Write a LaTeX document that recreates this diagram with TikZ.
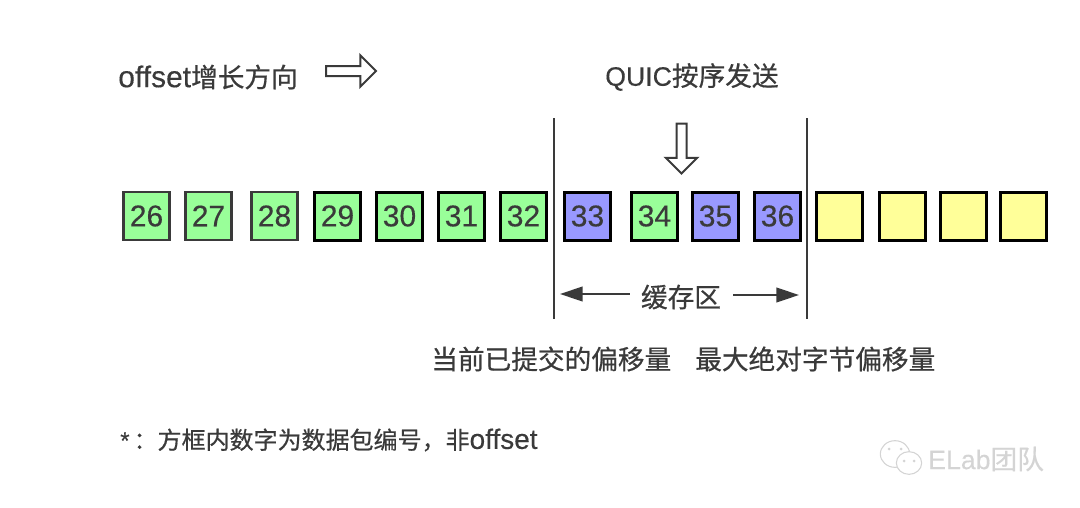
\documentclass[tikz,border=0pt]{standalone}
\usepackage{fontspec}
\setmainfont[FakeBold=0.3]{Liberation Sans}
\newfontfamily\cjk[FakeBold=0.6]{Noto Sans CJK SC}
\usepackage{tikz}
\usetikzlibrary{shapes.geometric, shapes.arrows, arrows.meta, positioning, calc}
\usepackage{xcolor}
\definecolor{inkgray}{HTML}{3A3A3A}
\definecolor{ackgreen}{HTML}{99FF99}
\definecolor{bufblue}{HTML}{9999FF}
\definecolor{freeyellow}{HTML}{FFFF99}
\definecolor{markgray}{HTML}{D4D4D4}

\begin{document}
\begin{tikzpicture}[
    x=0.75pt, y=-0.75pt,
    box/.style={rectangle, minimum width=34.5pt, minimum height=36pt, inner sep=0pt, draw=black, line width=2.25pt, text=inkgray, font=\fontsize{22.5}{24}\selectfont},
    oldbox/.style={box, draw=inkgray, line width=2pt},
    label/.style={inner sep=0pt, anchor=west, text=inkgray, font=\fontsize{20}{24}\selectfont},
    fat/.style={single arrow, draw=inkgray, fill=white, line width=1.5pt, inner sep=3pt, minimum width=23pt, minimum height=37.5pt, single arrow head extend=8pt, single arrow tip angle=90},
    bar/.style={draw=inkgray, line width=2pt},
    span/.style={-{Triangle[length=17pt,width=11pt]}, draw=inkgray, line width=1.5pt},
    bubble/.style={ellipse, draw=markgray, fill=white, line width=0.8pt, inner sep=0pt}
]
\useasboundingbox (0,0) rectangle (1080,507);
% top labels
\node[label] (grow) at (118,77) {\fontsize{22.5}{24}\selectfont offset{\fontsize{20}{24}\selectfont\cjk 增长方向}};
\node[fat] (growarrow) at (348.5,71) {};
\node[label] (send) at (605,77) {QUIC{\cjk 按序发送}};
\node[fat, shape border rotate=270] (sendarrow) at (681.5,146) {};

% packets
\node[oldbox, fill=ackgreen] (p26) at (146.5,216) {26};
\node[oldbox, fill=ackgreen] (p27) at (208.5,216) {27};
\node[oldbox, fill=ackgreen] (p28) at (274.5,216) {28};
\node[box, fill=ackgreen] (p29) at (337.5,216) {29};
\node[box, fill=ackgreen] (p30) at (399.5,216) {30};
\node[box, fill=ackgreen] (p31) at (461.5,216) {31};
\node[box, fill=ackgreen] (p32) at (523.5,216) {32};
\node[box, fill=bufblue] (p33) at (587.5,216) {33};
\node[box, fill=ackgreen] (p34) at (654.5,216) {34};
\node[box, fill=bufblue] (p35) at (715.5,216) {35};
\node[box, fill=bufblue] (p36) at (777.5,216) {36};
\node[box, fill=freeyellow] (y1) at (839.5,216) {};
\node[box, fill=freeyellow] (y2) at (902.5,216) {};
\node[box, fill=freeyellow] (y3) at (963.5,216) {};
\node[box, fill=freeyellow] (y4) at (1023.5,216) {};

% window limits
\coordinate (ltop) at (554,118);
\coordinate (lbot) at (554,319);
\coordinate (rtop) at (807,118);
\coordinate (rbot) at (807,319);
\draw[bar] (ltop) -- (lbot);
\draw[bar] (rtop) -- (rbot);

% buffer span
\node[label, anchor=center] (buf) at (681,297) {\cjk 缓存区};
\coordinate (bufl) at (560,294);
\coordinate (bufr) at (799,295);
\draw[span] (buf.west |- bufl) ++(-11,0) coordinate (bufla) -- (bufl);
\draw[span] (buf.east |- bufr) ++(12,0) coordinate (bufra) -- (bufr);

% bottom labels
\node[label] (committed) at (431,359) {\cjk 当前已提交的偏移量};
\node[label] (maxoff) at (695,359) {\cjk 最大绝对字节偏移量};
\node[label, font=\fontsize{18}{20}\selectfont] (note) at (120,440) {*\hspace{3pt}{\cjk ：方框内数字为数据包编号，非}{\fontsize{21}{20}\selectfont offset}};

% watermark
\node[bubble, minimum width=22pt, minimum height=20pt] (chat1) at (895,454) {};
\node[bubble, minimum width=19pt, minimum height=17pt] (chat2) at (909,463) {};
\fill[markgray] (889,449) circle (1.5) (901,449) circle (1.5) (904,461) circle (1.5) (914,461) circle (1.5);
\node[label, text=markgray, font=\fontsize{20}{22}\selectfont] (mark) at (928,459) {ELab{\cjk 团队}};
\end{tikzpicture}
\end{document}
